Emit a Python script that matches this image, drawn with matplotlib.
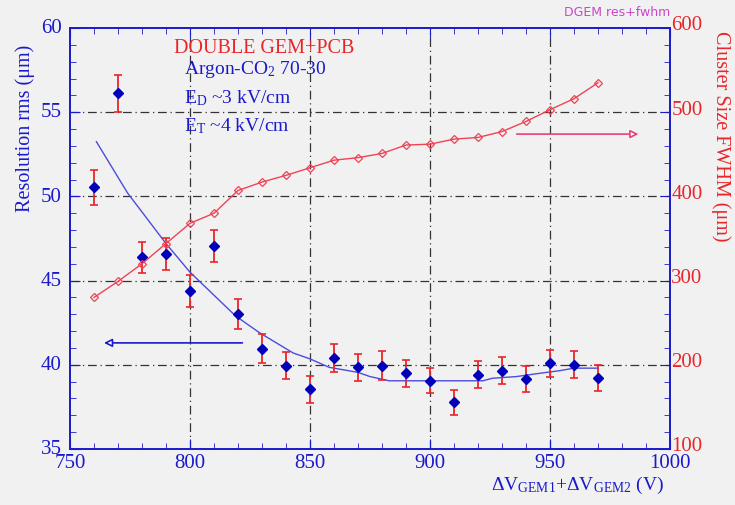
import matplotlib
matplotlib.use('Agg')
import matplotlib.pyplot as plt
import matplotlib.transforms as mtransforms
from matplotlib.ticker import MultipleLocator

plt.rcParams['font.family'] = ['Liberation Serif', 'DejaVu Serif']
plt.rcParams['mathtext.fontset'] = 'custom'
plt.rcParams['mathtext.rm'] = 'Liberation Serif'
plt.rcParams['mathtext.it'] = 'Liberation Serif:italic'

# data
volts = [760, 770, 780, 790, 800, 810, 820, 830, 840, 850, 860,
         870, 880, 890, 900, 910, 920, 930, 940, 950, 960, 970]
resolution = [50.54, 56.12, 46.38, 46.58, 44.4, 47.04, 43.0, 40.94, 39.95, 38.56, 40.39,
              39.85, 39.95, 39.5, 39.05, 37.77, 39.4, 39.65, 39.15, 40.1, 40.0, 39.2]
res_err = [1.03, 1.09, 0.91, 0.96, 0.94, 0.94, 0.9, 0.86, 0.8, 0.8, 0.84,
           0.82, 0.84, 0.8, 0.75, 0.74, 0.8, 0.8, 0.78, 0.8, 0.8, 0.76]
cluster = [280, 299, 320, 344, 368, 380, 407, 417, 425, 434, 443,
           446, 451, 461, 462, 468, 470, 477, 489, 503, 516, 535]

fit_x = [761, 774, 790, 800, 819, 829, 843, 850, 858, 870, 875, 883,
         922, 926, 936, 946, 954, 960, 970]
fit_y = [53.25, 50.2, 47.2, 45.5, 42.9, 41.9, 40.7, 40.35, 39.85, 39.55, 39.3, 39.05,
         39.05, 39.2, 39.3, 39.5, 39.65, 39.8, 39.8]

blue = '#1a1acc'
red = '#e8262a'
bg = '#f1f1f1'

fig = plt.figure(figsize=(7.35, 5.06), dpi=100, facecolor=bg)
ax = fig.add_axes([0.0952, 0.1107, 0.8164, 0.832], facecolor=bg)
ax2 = ax.twinx()

ax.set_xlim(750, 1000)
ax.set_ylim(35, 60)
ax2.set_ylim(100, 600)

# grid
for gx in [800, 850, 900, 950]:
    ax.axvline(gx, color='#333333', lw=0.9, ls=(0, (7, 3, 1, 3)), zorder=0)
for gy in [40, 45, 50, 55]:
    ax.axhline(gy, color='#333333', lw=0.9, ls=(0, (7, 3, 1, 3)), zorder=0)

# cluster size
ax2.plot(volts, cluster, color='#ee4455', lw=1.0, marker='D', ms=4.5,
         mfc='none', mec='#ee4455', mew=0.9)

# resolution
ax.errorbar(volts, resolution, yerr=res_err, fmt='none', ecolor=red,
            elinewidth=1.3, capsize=3, capthick=1.2, zorder=3)
ax.plot(volts, resolution, ls='none', marker='D', ms=5, color='#0000bb', zorder=4)
ax.plot(fit_x, fit_y, color='#4c4cdd', lw=1.0, zorder=2)

# arrows pointing to the axes
ax.annotate('', xy=(763, 41.3), xytext=(823, 41.3),
            arrowprops=dict(arrowstyle='-|>', color=blue, lw=1.2, fc='white',
                            mutation_scale=12))
ax2.annotate('', xy=(988, 474), xytext=(935, 474),
             arrowprops=dict(arrowstyle='-|>', color='#e8407a', lw=1.2, fc='white',
                             mutation_scale=12))

# text
ax.text(0.324, 0.953, 'DOUBLE GEM+PCB', transform=ax.transAxes, color=red,
        fontsize=14.5, ha='center', va='center')
ax.text(0.19, 0.903, r'Argon-CO$_2$ 70-30', transform=ax.transAxes, color=blue,
        fontsize=14, va='center')
ax.text(0.19, 0.836, r'E$_\mathrm{D}$ ~3 kV/cm', transform=ax.transAxes, color=blue,
        fontsize=14, va='center')
ax.text(0.19, 0.77, r'E$_\mathrm{T}$ ~4 kV/cm', transform=ax.transAxes, color=blue,
        fontsize=14, va='center')
fig.text(0.912, 0.976, 'DGEM res+fwhm', color='#cc44cc', fontsize=9,
         family='DejaVu Sans', ha='right', va='center')

ax.set_ylabel('Resolution rms (μm)', color=blue, fontsize=14.5)
ax.yaxis.set_label_coords(-0.058, 0.765)
ax2.set_ylabel('Cluster Size FWHM (μm)', color=red, fontsize=14.5, rotation=270)
ax2.yaxis.set_label_coords(1.102, 0.746)
ax.set_xlabel(r'$\Delta\mathrm{V_{GEM1}}$+$\Delta\mathrm{V_{GEM2}}$ (V)', color=blue,
              fontsize=14)
ax.xaxis.set_label_coords(0.99, -0.058)
ax.xaxis.label.set_ha('right')
ax.xaxis.label.set_va('top')

# ticks
ax.xaxis.set_major_locator(MultipleLocator(50))
ax.xaxis.set_minor_locator(MultipleLocator(10))
ax.yaxis.set_major_locator(MultipleLocator(5))
ax.yaxis.set_minor_locator(MultipleLocator(1))
ax2.yaxis.set_major_locator(MultipleLocator(100))
ax2.yaxis.set_minor_locator(MultipleLocator(20))
ax.tick_params(which='both', direction='in', color=blue, top=True, right=False,
               labelcolor=blue, labelsize=15)
ax.tick_params(which='major', length=7)
ax.tick_params(which='minor', length=4)
ax.tick_params(axis='x', pad=3)
ax.tick_params(axis='y', pad=6)
ax2.tick_params(which='both', direction='in', color=blue, labelcolor=red,
                labelsize=15, pad=1)
ax2.tick_params(which='major', length=7)
ax2.tick_params(which='minor', length=4)
for a in (ax, ax2):
    for s in a.spines.values():
        s.set_color(blue)
        s.set_linewidth(1.2)

# right-hand numbers sit a little above their ticks, as in the original
lift = mtransforms.ScaledTranslation(0, 4 / 72, fig.dpi_scale_trans)
for lab in ax2.get_yticklabels():
    lab.set_transform(lab.get_transform() + lift)
lift_l = mtransforms.ScaledTranslation(0, 2 / 72, fig.dpi_scale_trans)
for lab in ax.get_yticklabels():
    lab.set_transform(lab.get_transform() + lift_l)

fig.savefig('out.png', dpi=100, facecolor=bg)
